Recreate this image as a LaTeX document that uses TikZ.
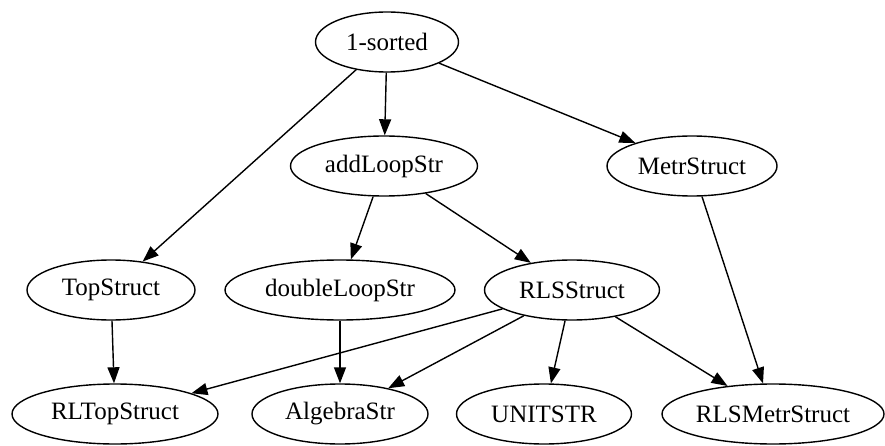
\documentclass[tikz,border=0pt]{standalone}
\usepackage{fontspec}
\setmainfont{Liberation Serif}
\usetikzlibrary{shapes.geometric,arrows.meta}
\begin{document}
\begin{tikzpicture}[x=1pt,y=1pt,
  nd/.style={ellipse,draw,line width=1.4pt,inner sep=0pt,minimum height=60pt,
    font=\fontsize{25}{29}\selectfont},
  edge/.style={line width=1.4pt,-{Triangle[length=16pt,width=12pt]}}]
\useasboundingbox (0,0) rectangle (885,-446);
\node[nd,minimum width=143pt] (s) at (387,-42) {1-sorted};
\node[nd,minimum width=187pt] (al) at (384,-166) {addLoopStr};
\node[nd,minimum width=170pt] (ms) at (692,-166) {MetrStruct};
\node[nd,minimum width=168pt] (ts) at (111,-290) {TopStruct};
\node[nd,minimum width=230pt] (dl) at (340,-290) {doubleLoopStr};
\node[nd,minimum width=175pt] (rls) at (572,-290) {RLSStruct};
\node[nd,minimum width=206pt] (rlt) at (115,-414) {RLTopStruct};
\node[nd,minimum width=176pt] (alg) at (340,-414) {AlgebraStr};
\node[nd,minimum width=175pt] (us) at (544,-414) {UNITSTR};
\node[nd,minimum width=222pt] (rlsm) at (773,-414) {RLSMetrStruct};
\draw[edge] (s) -- (al);
\draw[edge] (s) -- (ts);
\draw[edge] (s) -- (ms);
\draw[edge] (al) -- (dl);
\draw[edge] (al) -- (rls);
\draw[edge] (ms) -- (rlsm);
\draw[edge] (ts) -- (rlt);
\draw[edge] (dl) -- (alg);
\draw[edge] (rls) -- (rlt);
\draw[edge] (rls) -- (alg);
\draw[edge] (rls) -- (us);
\draw[edge] (rls) -- (rlsm);
\end{tikzpicture}
\end{document}
